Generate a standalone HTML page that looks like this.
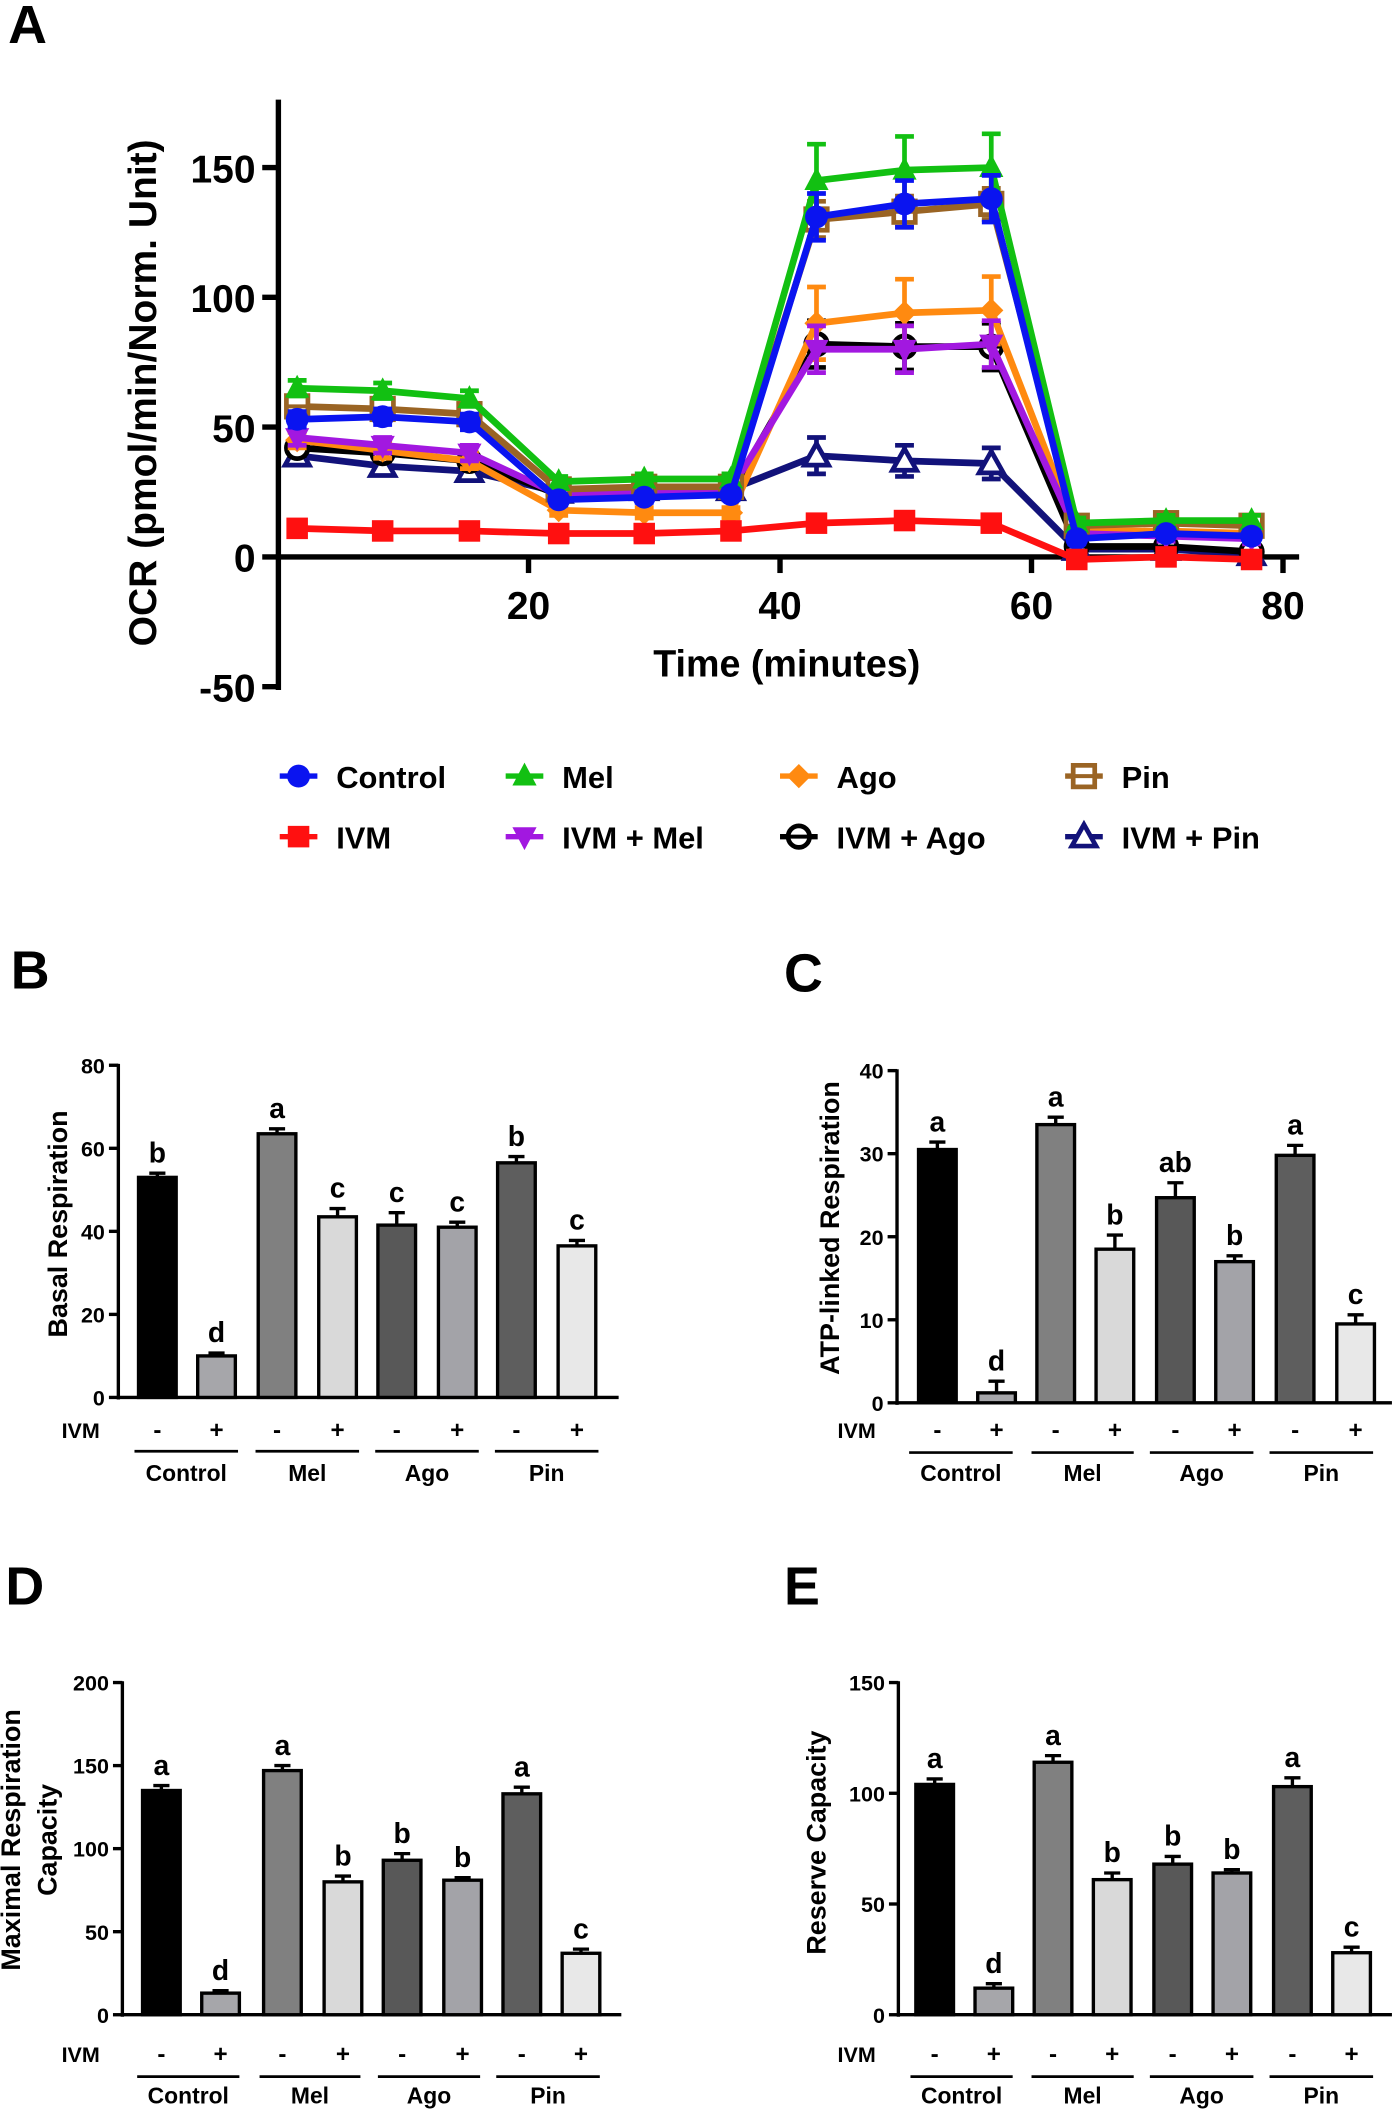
<!DOCTYPE html>
<html><head><meta charset="utf-8"><style>
html,body{margin:0;padding:0;background:#fff}
svg{display:block}
text{font-family:"Liberation Sans",Arial,sans-serif;font-weight:bold}
</style></head><body>
<svg id="fig" width="1400" height="2109" viewBox="0 0 1041 1568" xmlns="http://www.w3.org/2000/svg"></svg>
<script>
// ---------- Panel A data ----------
const timeMin = [1.6, 8.4, 15.3, 22.4, 29.2, 36.1, 42.9, 49.9, 56.8, 63.6, 70.7, 77.5];
const seriesNames = ["Control","IVM","Mel","IVM + Mel","Ago","IVM + Ago","Pin","IVM + Pin"];
const controlVals = [53,54,52,22,23,24,131,136,138,7,9,8];
const ivmVals = [11,10,10,9,9,10,13,14,13,-1,0,-1];
const melVals = [65,64,61,29,30,30,145,149,150,13,14,14];
const ivmMelVals = [46,43,40,24,25,26,80,80,82,9,8,7];
const agoVals = [45,41,37,18,17,17,90,94,95,10,10,9];
const ivmAgoVals = [42,40,37,24,25,25,82,81,81,4,4,2];
const pinVals = [58,57,55,26,27,27,130,133,136,12,13,12];
const ivmPinVals = [39,35,33,25,26,26,39,37,36,3,3,1];
const errMid = [3,3,3,2,2,2,9,9,9,2,2,2];
const errLarge = [3,3,3,2,2,2,14,13,13,2,2,2];
const errTiny = [2,2,2,2,2,2,3,3,3,1,1,1];
const errPin = [3,3,3,2,2,2,7,6,6,2,2,2];
const yTicksA = [-50,0,50,100,150];
const xTicksA = [20,40,60,80];

// ---------- Bar data ----------
const groupLabels = ["Control","Mel","Ago","Pin"];
const ivmSigns = ["-","+","-","+","-","+","-","+"];
const basalVals = [53,10,63.5,43.5,41.5,41,56.5,36.5];
const basalErr = [1,0.7,1.2,2,3,1.2,1.5,1.3];
const basalLetters = ["b","d","a","c","c","c","b","c"];
const basalTicks = [0,20,40,60,80];
const atpVals = [30.5,1.2,33.5,18.5,24.7,17,29.8,9.5];
const atpErr = [0.9,1.4,0.9,1.7,1.8,0.7,1.2,1.1];
const atpLetters = ["a","d","a","b","ab","b","a","c"];
const atpTicks = [0,10,20,30,40];
const maxVals = [135,13,147,80,93,81,133,37];
const maxErr = [3,1.5,3,3.5,4,1.5,4,2.5];
const maxLetters = ["a","d","a","b","b","b","a","c"];
const maxTicks = [0,50,100,150,200];
const resVals = [104,12,114,61,68,64,103,28];
const resErr = [2.5,2,3,3,3.5,1.5,4,2.5];
const resLetters = ["a","d","a","b","b","b","a","c"];
const resTicks = [0,50,100,150];

const svg = document.getElementById('fig');
const NS = 'http://www.w3.org/2000/svg';
function mk(tag, attrs, parent){const e=document.createElementNS(NS,tag);for(const k in attrs)e.setAttribute(k,attrs[k]);(parent||svg).appendChild(e);return e;}
function txt(s, attrs, parent){const e=mk('text',attrs,parent);e.textContent=s;return e;}

// ---------- Panel A ----------
const xA = t => 206 + t*9.35;
const yA = v => 414 - v*1.93;
let pl = txt('A',{x:6,y:32,'font-size':40});

let axA = mk('g',{});

mk('line',{x1:207,y1:74,x2:207,y2:513,stroke:'#000','stroke-width':4},axA);
mk('line',{x1:205,y1:414,x2:966,y2:414,stroke:'#000','stroke-width':4},axA);
yTicksA.forEach(v=>{mk('line',{x1:195,y1:yA(v),x2:207,y2:yA(v),stroke:'#000','stroke-width':4},axA);
  let t=txt(String(v),{x:190,y:yA(v)+11,'text-anchor':'end','font-size':29},axA);
  });
xTicksA.forEach(v=>{mk('line',{x1:xA(v),y1:414,x2:xA(v),y2:426,stroke:'#000','stroke-width':4},axA);
  let t=txt(String(v),{x:xA(v),y:460,'text-anchor':'middle','font-size':29},axA);
  });
let xt=txt('Time (minutes)',{x:585,y:503,'text-anchor':'middle','font-size':28});

let yt=txt('OCR (pmol/min/Norm. Unit)',{x:0,y:0,'text-anchor':'middle','font-size':29,transform:'translate(116,292) rotate(-90)'});


const seriesVals=[controlVals,ivmVals,melVals,ivmMelVals,agoVals,ivmAgoVals,pinVals,ivmPinVals];
const colors=['#0a14f0','#ff1010','#12c012','#a218e0','#ff8a10','#000000','#9a6424','#12127a'];
const markers=['circle','square','tri','tridown','diamond','ocircle','osquare','otri'];
const errs=[errMid,errTiny,errLarge,errMid,errLarge,errMid,errPin,errPin];
function marker(g,type,cx,cy,c,s){
  s=s||1;
  if(type==='circle')mk('circle',{cx,cy,r:8.5*s,fill:c},g);
  else if(type==='square')mk('rect',{x:cx-8*s,y:cy-8*s,width:16*s,height:16*s,fill:c},g);
  else if(type==='tri')mk('polygon',{points:`${cx},${cy-10*s} ${cx-9*s},${cy+7*s} ${cx+9*s},${cy+7*s}`,fill:c},g);
  else if(type==='tridown')mk('polygon',{points:`${cx},${cy+10*s} ${cx-9*s},${cy-7*s} ${cx+9*s},${cy-7*s}`,fill:c},g);
  else if(type==='diamond')mk('polygon',{points:`${cx},${cy-9*s} ${cx+9*s},${cy} ${cx},${cy+9*s} ${cx-9*s},${cy}`,fill:c},g);
  else if(type==='ocircle'){mk('circle',{cx,cy,r:8*s,fill:'#fff',stroke:c,'stroke-width':3.5},g);mk('line',{x1:cx-8*s,y1:cy,x2:cx+8*s,y2:cy,stroke:c,'stroke-width':3},g);}
  else if(type==='osquare'){mk('rect',{x:cx-8*s,y:cy-8*s,width:16*s,height:16*s,fill:'#fff',stroke:c,'stroke-width':3.5},g);mk('line',{x1:cx-8*s,y1:cy,x2:cx+8*s,y2:cy,stroke:c,'stroke-width':3},g);}
  else if(type==='otri')mk('polygon',{points:`${cx},${cy-9*s} ${cx-9*s},${cy+7*s} ${cx+9*s},${cy+7*s}`,fill:'#fff',stroke:c,'stroke-width':3.5},g);
}
const drawOrder=[7,5,4,3,6,2,0,1];
drawOrder.forEach(i=>{
  const g=mk('g',{});
  
  
  const vals=seriesVals[i],c=colors[i];
  mk('polyline',{points:vals.map((v,j)=>xA(timeMin[j])+','+yA(v)).join(' '),fill:'none',stroke:c,'stroke-width':5,'stroke-linejoin':'round'},g);
  vals.forEach((v,j)=>{const x=xA(timeMin[j]),e=errs[i][j];
    mk('line',{x1:x,y1:yA(v-e),x2:x,y2:yA(v+e),stroke:c,'stroke-width':3.5},g);
    mk('line',{x1:x-7,y1:yA(v+e),x2:x+7,y2:yA(v+e),stroke:c,'stroke-width':3.5},g);
    mk('line',{x1:x-7,y1:yA(v-e),x2:x+7,y2:yA(v-e),stroke:c,'stroke-width':3.5},g);
    marker(g,markers[i],x,yA(v),c);});
});
// legend
const legPos=[[222,577],[222,622],[390,577],[390,622],[594,577],[594,622],[806,577],[806,622]];
seriesNames.forEach((n,i)=>{
  const g=mk('g',{});
  
  
  const [x,y]=legPos[i];
  mk('line',{x1:x-14,y1:y,x2:x+14,y2:y,stroke:colors[i],'stroke-width':4},g);
  marker(g,markers[i],x,y,colors[i]);
  txt(n,{x:x+28,y:y+9,'font-size':23},g);
});

// ---------- Bar panels ----------
const fills=['#000000','#a6a6aa','#808080','#d9d9d9','#585858','#a3a3a8','#5e5e5e','#e8e8e8'];
function barPanel(cfg){
  const {name,ax,y0,yTop,maxV,ticks,vals,err,letters,title,centers,axEnd,under,ivmY,labY,underY,ivmX}=cfg;
  const yS=v=>y0-(v/maxV)*(y0-yTop);
  const g=mk('g',{});
  mk('line',{x1:ax,y1:yTop-1,x2:ax,y2:y0+1.5,stroke:'#000','stroke-width':2.5},g);
  mk('line',{x1:ax,y1:y0,x2:axEnd,y2:y0,stroke:'#000','stroke-width':2.5},g);
  ticks.forEach(v=>{mk('line',{x1:ax-7,y1:yS(v),x2:ax,y2:yS(v),stroke:'#000','stroke-width':2.5},g);
    const t=txt(String(v),{x:ax-10,y:yS(v)+6,'text-anchor':'end','font-size':16},g);
    });
  vals.forEach((v,i)=>{const cx=centers[i],w=28;
    const e=err[i];
    mk('line',{x1:cx,y1:yS(v),x2:cx,y2:yS(v+e),stroke:'#000','stroke-width':2.5},g);
    mk('line',{x1:cx-6,y1:yS(v+e),x2:cx+6,y2:yS(v+e),stroke:'#000','stroke-width':2.5},g);
    const b=mk('rect',{x:cx-w/2,y:yS(v),width:w,height:y0-yS(v),fill:fills[i],stroke:'#000','stroke-width':2.5},g);
    
    const l=txt(letters[i],{x:cx,y:yS(v+e)-8,'text-anchor':'middle','font-size':21},g);
    
    txt(ivmSigns[i],{x:cx,y:ivmY,'text-anchor':'middle','font-size':18},g);
  });
  txt('IVM',{x:ivmX,y:ivmY,'text-anchor':'middle','font-size':16},g);
  groupLabels.forEach((lab,k)=>{const [a,b]=under[k];
    mk('line',{x1:a,y1:underY,x2:b,y2:underY,stroke:'#000','stroke-width':2},g);
    txt(lab,{x:(a+b)/2,y:labY,'text-anchor':'middle','font-size':17},g);});
  title.forEach(t=>{const e=txt(t[0],{x:0,y:0,'text-anchor':'middle','font-size':20,transform:`translate(${t[1]},${t[2]}) rotate(-90)`},g);
    });
}
barPanel({name:'panel-b-basal',ax:88,y0:1039,yTop:792,maxV:80,ticks:basalTicks,vals:basalVals,err:basalErr,letters:basalLetters,
  title:[['Basal Respiration',50,910]],centers:[117,161,206,251,295,340,384,429],axEnd:460,
  under:[[100,177],[190,267],[279,356],[368,445]],ivmY:1069,labY:1101,underY:1079,ivmX:60});
barPanel({name:'panel-c-atp',ax:667,y0:1043,yTop:796,maxV:40,ticks:atpTicks,vals:atpVals,err:atpErr,letters:atpLetters,
  title:[['ATP-linked Respiration',624,913]],centers:[697,741,785,829,874,918,963,1008],axEnd:1035,
  under:[[676,753],[767,843],[855,932],[944,1021]],ivmY:1069,labY:1101,underY:1080,ivmX:637});
barPanel({name:'panel-d-maximal',ax:91,y0:1498,yTop:1251,maxV:200,ticks:maxTicks,vals:maxVals,err:maxErr,letters:maxLetters,
  title:[['Maximal Respiration',15,1368],['Capacity',42,1368]],centers:[120,164,210,255,299,344,388,432],axEnd:462,
  under:[[102,178],[193,268],[281,357],[369,446]],ivmY:1533,labY:1564,underY:1544,ivmX:60});
barPanel({name:'panel-e-reserve',ax:668,y0:1498,yTop:1251,maxV:150,ticks:resTicks,vals:resVals,err:resErr,letters:resLetters,
  title:[['Reserve Capacity',614,1370]],centers:[695,739,783,827,872,916,961,1005],axEnd:1035,
  under:[[677,753],[767,843],[855,932],[944,1021]],ivmY:1533,labY:1564,underY:1544,ivmX:637});
[['B',8,735],['C',583,737],['D',4,1193],['E',583,1193]].forEach(p=>{
  const t=txt(p[0],{x:p[1],y:p[2],'font-size':40});
  
  
});
</script>
</body></html>
